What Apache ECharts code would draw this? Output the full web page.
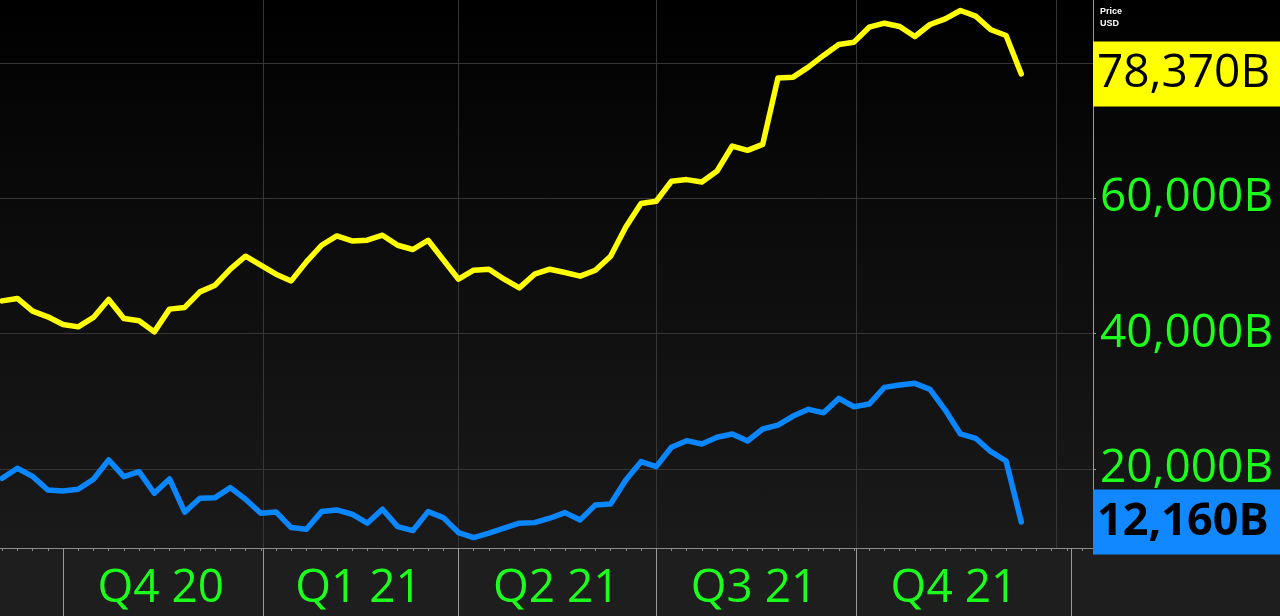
<!DOCTYPE html>
<html><head><meta charset="utf-8">
<script src="https://cdn.jsdelivr.net/npm/echarts@6/dist/echarts.min.js"></script>
<style>
html,body{margin:0;padding:0;background:#1e1e1e;}
#c{width:1280px;height:616px;background:linear-gradient(to bottom,#000 0px,#0a0a0a 200px,#1a1a1a 548px,#1e1e1e 548px,#1e1e1e 616px);}
</style></head><body><div id="c"></div>
<script>
// weekly observations (Thursdays), first one 2020-09-03
const firstDate = '2020-09-03';
const yellowValues = [44840,45200,43320,42480,41360,41000,42390,45050,42240,41890,
  40260,43620,43870,46170,47160,49520,51440,50110,48780,47790,
  50600,53060,54440,53700,53800,54540,53060,52430,53800,50920,
  48040,49370,49520,48040,46760,48780,49520,49030,48490,49370,
  51440,55760,59220,59560,62510,62760,62410,64030,67720,67080,
  67970,77760,77900,79380,81110,82730,83070,85280,85870,85390,
  83910,85680,86520,87750,86910,84900,84060,78370];
const blueValues = [18630,20100,18900,16900,16750,17000,18480,21330,18860,19600,
  16410,18520,13610,15680,15760,17240,15530,13460,13650,11340,
  11100,13700,13950,13310,11990,14050,11480,10890,13700,12810,
  10600,9860,10510,11250,11990,12070,12720,13550,12470,14690,
  14830,18380,21080,20340,23200,24180,23690,24680,25170,24130,
  25900,26490,27820,28810,28310,30430,29190,29590,32060,32400,
  32650,31760,28710,25170,24530,22550,21180,12160];
const quarterLabels = ['Q4 20','Q1 21','Q2 21','Q3 21','Q4 21'];
const quarterMids = ['2020-11-15','2021-02-14','2021-05-16','2021-08-15','2021-11-15'];
const quarterEdges = ['2020-10-01','2021-01-01','2021-04-01','2021-07-01','2021-10-01','2022-01-08'];
const gridDates = ['2021-01-01','2021-04-01','2021-07-01','2021-10-01','2022-01-01'];
const yTicks = [20000,40000,60000,80000];
const yLabels = [20000,40000,60000];
const xMin = '2020-09-02', xMax = '2022-01-18';
const yMin = 8320, yMax = 89300;

const t = s => { const p = s.split('-').map(Number); return Date.UTC(p[0], p[1]-1, p[2]); };
const f0 = firstDate.split('-').map(Number);
const dates = yellowValues.map((_, i) => Date.UTC(f0[0], f0[1]-1, f0[2] + 7*i));
const weekTicks = [];
for (let i = 0; ; i++) { const d = Date.UTC(f0[0], f0[1]-1, f0[2] + 7*i); if (d > t(xMax)) break; weekTicks.push(d); }
const midTs = quarterMids.map(t);
const fmtB = v => Math.round(v).toLocaleString('en-US') + 'B';
const FONT = 'Open Sans';
const GREEN = '#1cff1c';
const xBase = { type: 'value', min: t(xMin), max: t(xMax), position: 'bottom', scale: true };

const chart = echarts.init(document.getElementById('c'), null, {renderer:'canvas'});
chart.setOption({
  animation: false,
  backgroundColor: 'transparent',
  title: { text: 'Price\nUSD', left: 1095, top: 1,
    textStyle: { color: '#fff', fontSize: 9, fontWeight: 'bold', lineHeight: 12, fontFamily: 'Liberation Sans' } },
  grid: { left: 0, top: 0, right: 187, bottom: 68, containLabel: false, outerBoundsMode: 'none' },
  xAxis: [
    Object.assign({}, xBase, {
      axisLine: { show: true, lineStyle: { color: '#8c8c8c', width: 1 } },
      axisTick: { show: true, customValues: weekTicks, length: 3, lineStyle: { color: '#8c8c8c' } },
      axisLabel: { show: true, customValues: midTs, color: GREEN, fontSize: 46, fontFamily: FONT, margin: 18,
        formatter: v => { let bi = 0, bd = Infinity; midTs.forEach((m, i) => { const d = Math.abs(m - v); if (d < bd) { bd = d; bi = i; } }); return quarterLabels[bi]; } },
      splitLine: { show: false } }),
    Object.assign({}, xBase, {
      axisLine: { show: false },
      axisTick: { show: true, customValues: quarterEdges.map(t), length: 70, lineStyle: { color: '#9a9a9a' } },
      axisLabel: { show: false }, splitLine: { show: false } }),
    Object.assign({}, xBase, {
      axisLine: { show: false },
      axisTick: { show: false, customValues: gridDates.map(t) },
      axisLabel: { show: false },
      splitLine: { show: true, lineStyle: { color: '#363636', width: 1 } } })
  ],
  yAxis: [
    { type: 'value', position: 'right', min: yMin, max: yMax,
      axisLine: { show: true, lineStyle: { color: '#9a9a9a' } },
      axisTick: { show: true, customValues: yTicks, length: 3, lineStyle: { color: '#9a9a9a' } },
      axisLabel: { customValues: yLabels, formatter: fmtB, color: GREEN, fontSize: 46, fontFamily: FONT, margin: 7 },
      splitLine: { show: true, lineStyle: { color: '#363636', width: 1 } } },
    { type: 'value', position: 'right', min: yMin, max: yMax,
      axisLine: { show: false }, axisTick: { show: false }, splitLine: { show: false },
      axisLabel: { customValues: [yellowValues[yellowValues.length-1]], formatter: fmtB, margin: 0,
        color: '#000', fontSize: 46, fontFamily: FONT, backgroundColor: '#ffff00',
        padding: [8, 4, 7, 4], width: 179, lineHeight: 50 } },
    { type: 'value', position: 'right', min: yMin, max: yMax,
      axisLine: { show: false }, axisTick: { show: false }, splitLine: { show: false },
      axisLabel: { customValues: [blueValues[blueValues.length-1]], formatter: fmtB, margin: 0,
        color: '#000', fontSize: 45, fontWeight: 'bold', fontFamily: FONT, backgroundColor: '#1188ff',
        padding: [8, 4, 7, 4], width: 179, lineHeight: 50 } }
  ],
  series: [
    { type: 'line', xAxisIndex: 0, yAxisIndex: 0, data: dates.map((d, i) => [d, yellowValues[i]]),
      symbol: 'none', lineStyle: { color: '#ffff00', width: 5.5, join: 'round', cap: 'round' }, itemStyle: { color: '#ffff00' } },
    { type: 'line', xAxisIndex: 0, yAxisIndex: 0, data: dates.map((d, i) => [d, blueValues[i]]),
      symbol: 'none', lineStyle: { color: '#0a86ff', width: 5.5, join: 'round', cap: 'round' }, itemStyle: { color: '#0a86ff' } }
  ]
});
</script></body></html>
